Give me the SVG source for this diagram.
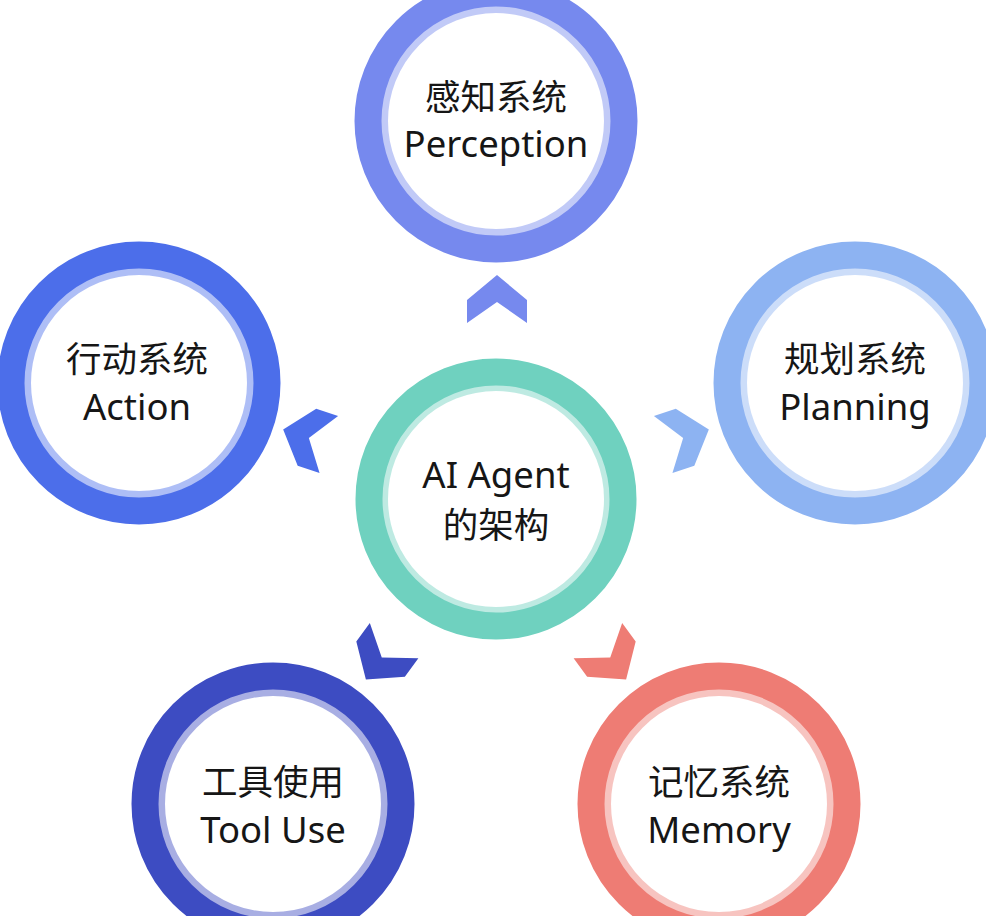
<svg xmlns="http://www.w3.org/2000/svg" xmlns:xlink="http://www.w3.org/1999/xlink" width="986" height="916" viewBox="0 0 986 916">
<style>
.ring{fill:none;stroke-width:27}
.band{fill:#fff;stroke-width:8;stroke-opacity:0.45}
.t{font-family:"Noto Sans","Noto Sans CJK SC",sans-serif;font-size:36.5px;fill:#161616;text-anchor:middle}
.c{font-family:"Noto Sans CJK SC",sans-serif;font-size:35.5px;fill:#161616;text-anchor:middle}
</style>
<defs>
<path id="chev" d="M0,-24 L30,1 L30,24 L0,3 L-30,24 L-30,1 Z"/>
</defs>
<rect width="986" height="916" fill="#fff"/>
<g id="connectors">
<use xlink:href="#chev" href="#chev" fill="#7689EE" transform="translate(497,299)"/>
<use xlink:href="#chev" href="#chev" fill="#8DB3F2" transform="translate(686,437) rotate(72)"/>
<use xlink:href="#chev" href="#chev" fill="#EE7C74" transform="translate(612,660) rotate(144)"/>
<use xlink:href="#chev" href="#chev" fill="#3D4CC2" transform="translate(380,660) rotate(216)"/>
<use xlink:href="#chev" href="#chev" fill="#4C6EEA" transform="translate(306,437) rotate(-72)"/>
</g>
<g id="center">
<circle cx="496" cy="499" r="112" class="band" stroke="#6FD1BF"/>
<circle cx="496" cy="499" r="127" class="ring" stroke="#6FD1BF"/>
<text x="496" y="488" class="t">AI Agent</text>
<text x="496" y="538" class="c">的架构</text>
</g>
<g id="perception">
<circle cx="496" cy="121" r="112" class="band" stroke="#7689EE"/>
<circle cx="496" cy="121" r="128" class="ring" stroke="#7689EE"/>
<text x="496" y="110" class="c">感知系统</text>
<text x="496" y="157" class="t">Perception</text>
</g>
<g id="planning">
<circle cx="855" cy="383" r="112" class="band" stroke="#8DB3F2"/>
<circle cx="855" cy="383" r="128" class="ring" stroke="#8DB3F2"/>
<text x="855" y="372" class="c">规划系统</text>
<text x="855" y="420" class="t">Planning</text>
</g>
<g id="memory">
<circle cx="719" cy="804" r="112" class="band" stroke="#EE7C74"/>
<circle cx="719" cy="804" r="128" class="ring" stroke="#EE7C74"/>
<text x="719" y="795" class="c">记忆系统</text>
<text x="719" y="843" class="t">Memory</text>
</g>
<g id="tooluse">
<circle cx="273" cy="804" r="112" class="band" stroke="#3D4CC2"/>
<circle cx="273" cy="804" r="128" class="ring" stroke="#3D4CC2"/>
<text x="273" y="795" class="c">工具使用</text>
<text x="273" y="843" class="t">Tool Use</text>
</g>
<g id="action">
<circle cx="139" cy="383" r="112" class="band" stroke="#4C6EEA"/>
<circle cx="139" cy="383" r="128" class="ring" stroke="#4C6EEA"/>
<text x="137" y="372" class="c">行动系统</text>
<text x="137" y="420" class="t">Action</text>
</g>
</svg>
